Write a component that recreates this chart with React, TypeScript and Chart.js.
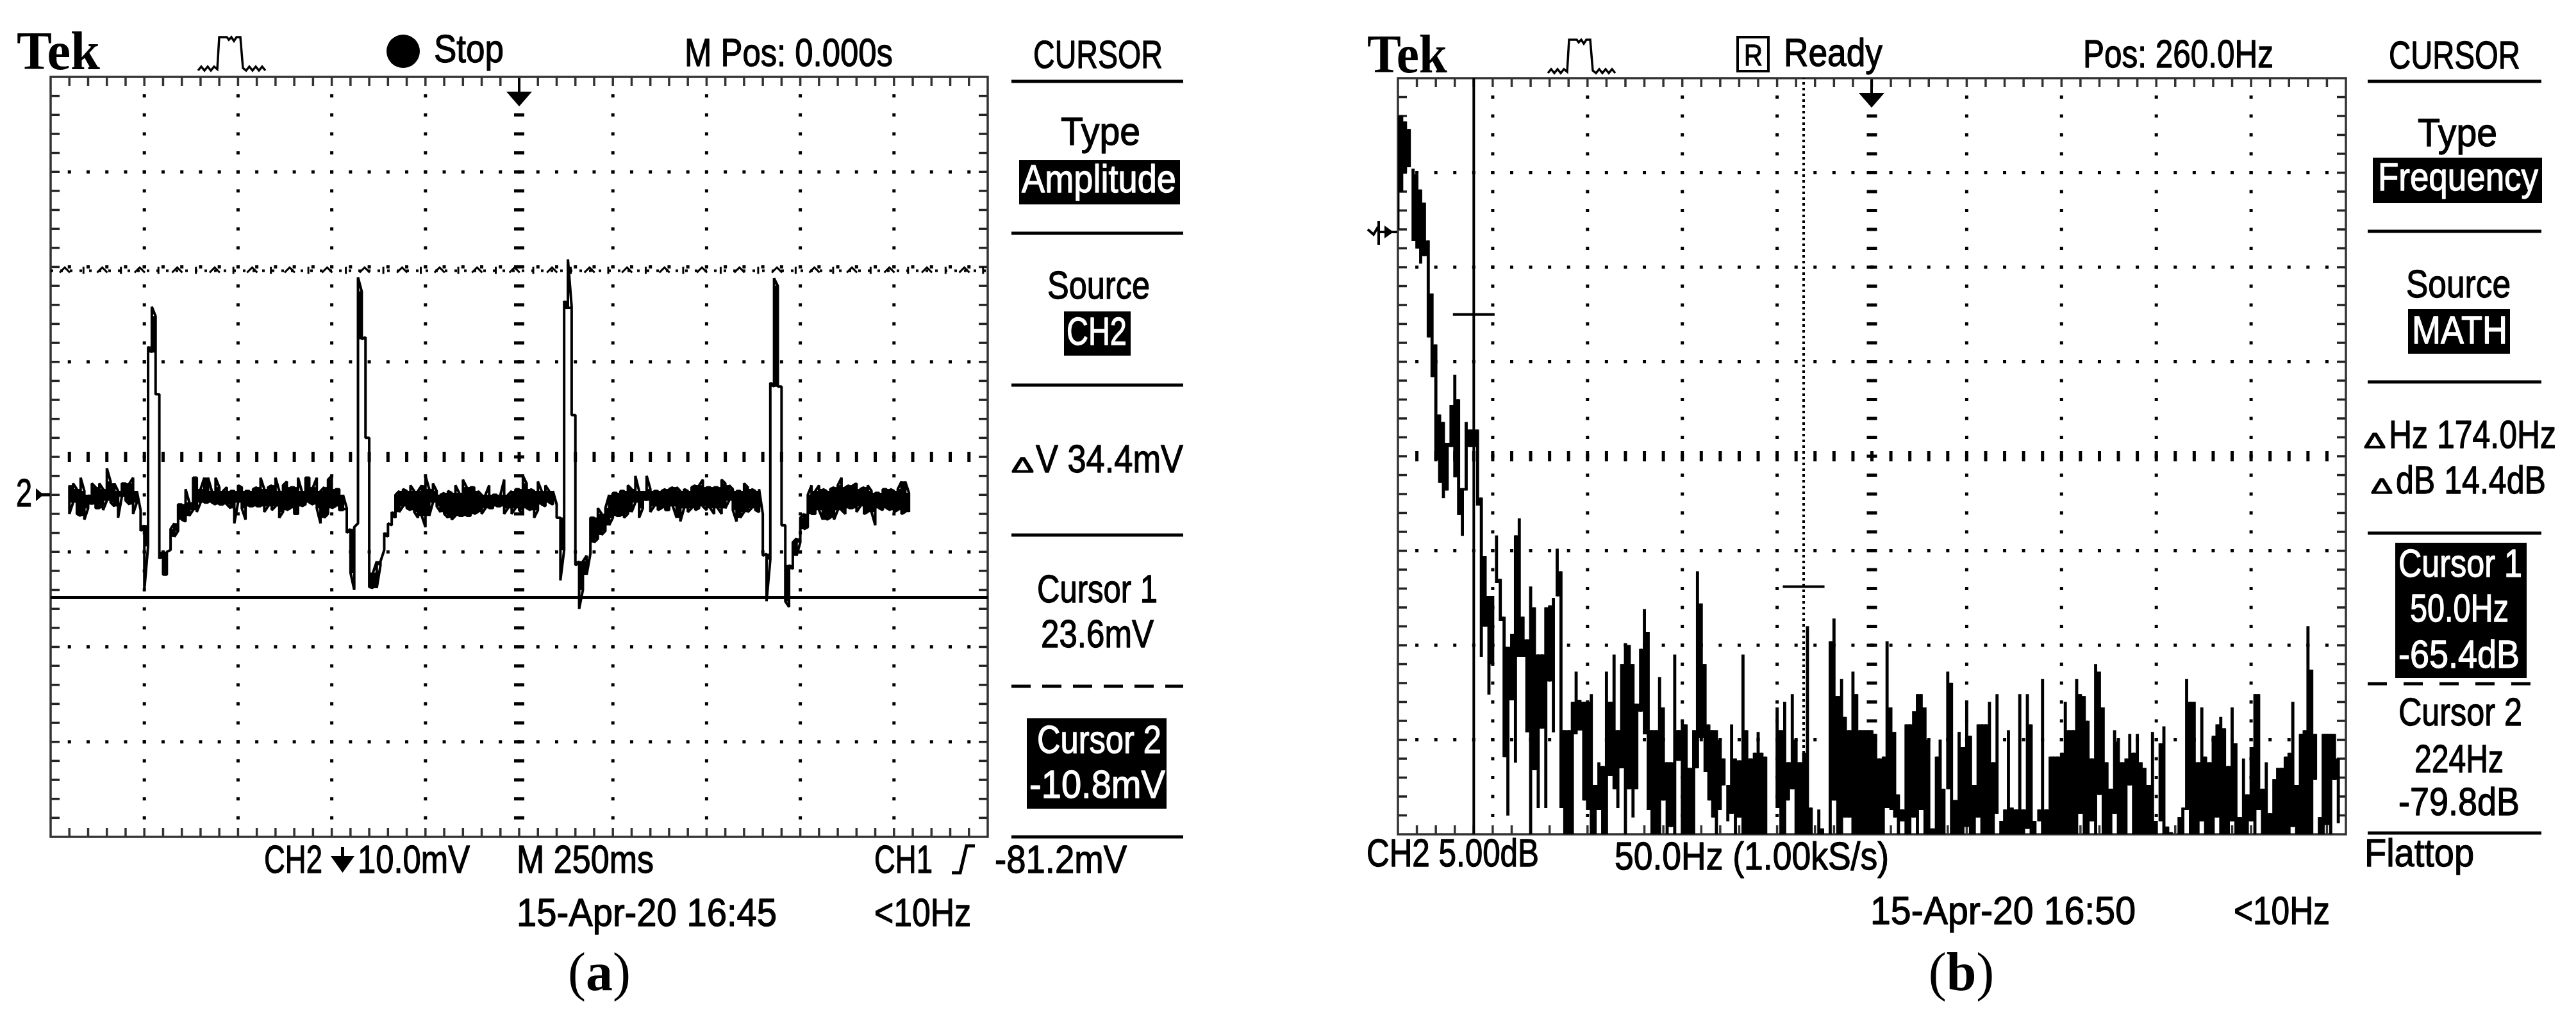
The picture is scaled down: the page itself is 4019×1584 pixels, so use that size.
import { useEffect, useRef } from "react";
import { Chart, registerables } from "chart.js";
Chart.register(...registerables);

// ---------- Panel (a): CH2 trace, one high/low pair per display column (mV) ----------
const traceAFirstColumn = 5;
const traceAHigh = [
  1,1.2,0.6,1.8,0.4,0,1.2,0.8,1.2,0.6,2.8,1.4,1.2,0.4,1.2,1.2,1.2,1.8,
  0.4,-1.6,-3.2,15.6,19.8,18.8,10.6,-6,-6,-3.6,-3,-1,-1,0.6,-0.8,1.8,
  1.8,0.6,1.8,1.8,0.4,1.8,0.8,0.4,0.8,0.4,0.4,1,0.8,0.4,0.4,0.6,0.8,1.8,0.6,0.8,1,1.8,0.4,1,1.4,0.8,0.8,1.8,0.4,1.8,1.8,0.8,1.8,0.4,0.8,1.6,2,0.6,0.6,0,
  -1.4,-3.6,-3.4,22.9,21.4,16.6,6,-8.2,-7,-7,-4,-3,-1.8,0,0.4,0.6,0.4,1,0.4,0.4,1,2,0.6,1.2,0.4,0,0.2,0.4,0.2,1,0.2,1.6,0.8,0.8,0.8,0.4,0,0,1,0,0,0,1.6,0,0.4,0.6,0.6,2,1.2,0.6,0.4,1.4,0.4,1,0.4,0.4,
  -1,-2.4,20.4,24.8,19.8,8.4,-7,-7,-6.4,-2.4,-2.4,-1.4,-2,-1.4,0,
  0.2,0.2,0.4,0.4,1,0.6,2,0.4,0.4,2,0.6,0.4,0.4,0.4,0.6,0.6,0.8,0.8,0.4,0.6,0.4,0.8,1,1,1.6,0.8,0.8,0.8,0.8,1.6,1.2,1,0.6,0.4,0.4,1.2,0.8,0.6,0.4,0.6,
  -2,-6.2,11.8,22.8,22,11.4,-3.2,-7.4,-5,-4.6,-2.4,-2,0,1,0.4,1,0.6,0.4,0.6,0.8,1,1.8,0.8,1,1,1.2,0.6,0.8,1,0.4,0.2,0.2,0.6,0.6,0.6,0.4,0.6,1.4,1.4,0.2,
];
const traceALow = [
  -2,-0.8,-2,-2.2,-2.6,-1.4,-1,-1.4,-1.4,-1.6,-0.6,-0.8,-1.2,-2.4,-0.2,-0.6,-1,-2,
  -0.8,-3.8,-10,-5.4,15,10.6,-6.7,-8.4,-8.4,-5.8,-4.4,-3.8,-2.6,-2.8,-2.2,-1.6,
  -1.8,-0.8,-0.8,-0.8,-0.8,-1,-1,-1,-1,-1.4,-3,-0.8,-1.4,-2.6,-1.2,-1.2,-1.2,-1.2,-1.8,-1.2,-1.6,-1.2,-2.4,-1.8,-1.6,-1.4,-2,-2,-1.2,-1,-0.8,-1,-1.4,-3,-2.4,-2,-1.4,-1.2,-1.6,-1.6,
  -4,-8.2,-10,-3,16.4,6,-9.7,-9.8,-9.8,-7.4,-5.8,-4.4,-3.2,-2.4,-1.8,-1.2,-1.4,-1.6,-1.8,-2.4,-2.2,-3.4,-2.2,-0.8,-1.2,-1.8,-2,-2.4,-2.6,-2.2,-2.2,-2.2,-2.2,-2.2,-2,-1.8,-2,-1.4,-1.4,-1.4,-1.2,-1.2,-2,-1.4,-2,-1.4,-1.6,-2,-1.4,-1.6,-2.4,-1.6,-1,-1.2,-0.8,-1,
  -2.4,-9,-5.8,19.6,8.4,-7.4,-12,-10,-8.4,-6.2,-5,-4.6,-4.2,-3.8,-3.2,
  -2.4,-2.2,-2.2,-2.4,-2,-1.8,-0.8,-2.4,-1.4,-0.6,-1.8,-1.2,-1.6,-1.4,-1.6,-1.6,-1.2,-2.4,-2.8,-1.4,-1.8,-1.4,-1.6,-1.4,-1.2,-1.6,-1.4,-2,-1.4,-2,-1.4,-0.6,-1.6,-2.8,-2.4,-1.8,-1.8,-1.4,-1.6,-1.8,
  -6.4,-11.2,-6.8,11.4,11.4,-3.2,-11.2,-11.8,-7.8,-6.4,-5,-3.6,-3.4,-2,-2,-1.6,-2.6,-2.6,-2.4,-2.6,-1.6,-1.6,-2,-1.4,-1.4,-1.8,-1.2,-2,-1.8,-1.8,-3.2,-1.4,-1.6,-1.4,-1.6,-1.8,-1.6,-2,-1.8,-1.8,
];
const cursor1Mv = 23.6;
const cursor2Mv = -10.8;

// ---------- Panel (b): FFT, one high/low pair per display column (dB) ----------
const spectrumHigh = [
  -54.9,-54.9,-55.2,-55.6,-57.7,-58,-58.8,-59.5,-61.5,-64.3,-67,-70.7,-71.1,-72.2,-70.2,-68.6,-69.9,-74.6,-71.1,-71.5,
  -71.5,-71.5,-75.1,-78.2,-80.3,-80.3,-77.1,-79.4,-81.4,-83,-82.3,-77.1,-76.2,-81.4,-82.6,-79.8,-80.9,-83.4,-83.4,-80.9,
  -80.8,-80.4,-77.8,-79,-87.4,-87.4,-85.9,-84.3,-85.8,-85.9,-85.9,-85.5,-90.3,-89.1,-89.3,-84.3,-85.9,-83.4,-87.4,-83.9,
  -82.8,-82.9,-83.9,-86,-83.1,-81,-82.2,-87.4,-87.4,-84.6,-86.2,-89.1,-89.1,-83.4,-87.4,-86.9,-87.1,-89.4,-87.4,-79,
  -80.7,-83.9,-87.1,-87.4,-87.4,-87.9,-88.9,-90.3,-87.1,-88.9,-89,-83.4,-87.4,-88.9,-88.6,-87.5,-88.6,-88.8,-92.9,-92.9,
  -86.2,-87.4,-85.9,-89.1,-85.5,-87.9,-89.1,-88.6,-81.9,-91.5,-92.9,-91.6,-92.6,-92.9,-82.7,-81.5,-85.6,-84.7,-86.7,-87.4,
  -84.3,-85.5,-87.4,-87.4,-87.4,-87.4,-87.6,-88.9,-88.8,-82.7,-86.2,-87.5,-90.8,-91.6,-87.1,-87.1,-86.4,-85.5,-85.5,-86.2,
  -87.9,-92.6,-88.8,-87.9,-90.5,-84.3,-84.9,-91.1,-87.5,-88.3,-85.9,-87.7,-90.3,-87.1,-87.1,-87.1,-85.9,-89.1,-85.5,-92.2,
  -91.6,-87.4,-91.5,-91.6,-85.5,-91.6,-85.5,-87.1,-92.2,-91.6,-84.7,-91.6,-88.8,-88.8,-88.8,-88.6,-85.9,-87.4,-87.4,-84.7,
  -85.5,-85.6,-86.9,-88.9,-83.9,-84.3,-86.2,-89.1,-90.5,-87.4,-88,-89.1,-88.9,-87.6,-88.6,-87.6,-89.1,-89.4,-90.3,-87.5,
  -92.2,-88.1,-87.2,-92.5,-92.8,-92.9,-92,-91.5,-84.7,-85.9,-85.9,-89.1,-86.2,-88.8,-89.1,-87.7,-87.1,-86.7,-87.3,-89.3,
  -86.2,-88.1,-92,-88.9,-90.8,-88.3,-85.5,-85.5,-90.5,-89.1,-91.8,-90,-89.4,-89.4,-88.8,-88.6,-85.9,-90.3,-87.6,-87.4,
  -81.9,-84.2,-87.6,-92,-87.6,-87.6,-87.6,-87.6,-88.9,
];
const spectrumLow = [
  -60.9,-58.9,-57.9,-57.6,-61.5,-61.9,-62.7,-62.3,-66.6,-68.7,-73.1,-74.3,-75.1,-74.7,-72.4,-74,-76,-77.1,-74.7,-72.4,
  -72.4,-75.5,-83.5,-81.9,-85.5,-83.9,-79.6,-81.6,-88.8,-91.9,-85.8,-89.1,-83.5,-83.5,-87.5,-92.9,-89.5,-91.5,-87.3,-91.5,
  -84.8,-87.5,-80.3,-91.5,-92.9,-92.9,-92.9,-87.6,-87.4,-91.1,-91.6,-92.9,-92.9,-91.6,-92.9,-92.9,-89.8,-90.5,-91.5,-89.4,
  -92.9,-90.5,-92,-90.5,-86.4,-87.6,-91.6,-92.9,-92.9,-92.9,-91.1,-92.9,-92.5,-92.9,-89,-92.9,-92.9,-92.9,-92.9,-89.4,
  -87.8,-89.6,-91.1,-92,-92.9,-91.6,-90.3,-92.2,-91.8,-92.9,-92,-92.9,-92.9,-92.9,-92.9,-92.9,-92.9,-92.9,-92.9,-92.9,
  -91.5,-92.9,-92.9,-91.1,-90.5,-92.9,-92.9,-92.9,-92.9,-92.9,-92.9,-92.9,-92.9,-92.9,-92.9,-91.1,-92.9,-92.9,-92,-92,
  -92.9,-92.9,-92.9,-92.9,-92.9,-92.9,-92.9,-92.9,-92.9,-91.5,-91.6,-92,-92.9,-92.2,-92.9,-92.9,-92,-92.9,-91.6,-92.9,
  -92.9,-92.9,-92.9,-92.9,-92.9,-90.5,-92.9,-92.9,-92.9,-92.9,-92.5,-92.9,-92.9,-92,-92.9,-92.9,-92.9,-92.9,-91.8,-92.9,
  -92.9,-92.9,-92.9,-92.9,-92.9,-92.9,-92.6,-92.9,-92.9,-92.2,-92.9,-92.9,-92.9,-92.9,-92.9,-92.9,-92.9,-92.9,-92.9,-92.9,
  -91.8,-92.9,-92.9,-92.2,-92.9,-90.8,-92.9,-92.9,-92.9,-91.8,-92.9,-92.9,-92.9,-90.3,-92.9,-92.9,-92.9,-92.9,-92.9,-92.9,
  -92.9,-92.2,-92.9,-92.9,-92.9,-92.9,-92.9,-92.9,-91.6,-92.9,-92.9,-92.9,-92.2,-92.9,-92.9,-92.9,-92,-92.9,-92.9,-92.9,
  -92.2,-92.9,-92.9,-92.9,-92.9,-92.2,-92.9,-91.6,-92.9,-92.9,-92.9,-92.9,-92.9,-92.9,-92.9,-92.9,-92.5,-92.9,-92.9,-92.9,
  -92.9,-92.9,-90,-92.9,-92.9,-92.4,-92.9,-90,-92.3,
];
const cursor1Hz = 50;
const cursor1Db = -65.4;
const cursor2Hz = 224;
const cursor2Db = -79.8;
const crossHalfWidthHz = 11;

// ---------- Axis ranges ----------
const timeRangeMs = [-1250, 1250];
const voltRangeMv = [-36, 44];
const freqRangeHz = [10, 510];
const levelRangeDb = [-92.9, -52.9];

// ---------- Texts: [text, left, right, baseline, font size] ----------
type T = [string, number, number, number, number?];
const textsA: T[] = [
  ["Stop", 677, 786, 97],
  ["M Pos: 0.000s", 1068, 1393, 103],
  ["CURSOR", 1612, 1814, 106],
  ["Type", 1655, 1779, 226],
  ["Source", 1634, 1794, 466],
  ["Δ", 1578, 1613, 737, 34],
  ["V 34.4mV", 1616, 1846, 737],
  ["Cursor 1", 1618, 1806, 940],
  ["23.6mV", 1624, 1800, 1010],
  ["CH2", 412, 503, 1362],
  ["10.0mV", 558, 733, 1362],
  ["M 250ms", 806, 1020, 1362],
  ["CH1", 1364, 1455, 1362],
  ["-81.2mV", 1552, 1758, 1362],
  ["15-Apr-20 16:45", 806, 1212, 1445],
  ["<10Hz", 1364, 1515, 1445],
  ["2", 25, 50, 790],
];
const inverseA: T[] = [
  ["Amplitude", 1594, 1835, 300],
  ["CH2", 1664, 1758, 538],
  ["Cursor 2", 1618, 1812, 1175],
  ["-10.8mV", 1606, 1818, 1245],
];
const textsB: T[] = [
  ["Ready", 2783, 2937, 103],
  ["Pos: 260.0Hz", 3250, 3547, 105],
  ["CURSOR", 3727, 3932, 107],
  ["Type", 3772, 3896, 228],
  ["Source", 3754, 3917, 464],
  ["Δ", 3688, 3722, 699, 34],
  ["Hz 174.0Hz", 3727, 3988, 699],
  ["Δ", 3699, 3733, 770, 34],
  ["dB 14.4dB", 3738, 3972, 770],
  ["Cursor 2", 3742, 3935, 1132],
  ["224Hz", 3767, 3906, 1205],
  ["-79.8dB", 3742, 3931, 1272],
  ["Flattop", 3689, 3860, 1352],
  ["CH2 5.00dB", 2132, 2401, 1352],
  ["50.0Hz (1.00kS/s)", 2519, 2947, 1357],
  ["15-Apr-20 16:50", 2918, 3332, 1442],
  ["<10Hz", 3485, 3635, 1442],
];
const inverseB: T[] = [
  ["Frequency", 3710, 3960, 297],
  ["MATH", 3763, 3912, 536],
  ["Cursor 1", 3742, 3935, 900],
  ["50.0Hz", 3760, 3914, 970],
  ["-65.4dB", 3742, 3931, 1042],
];

const SANS = '"Liberation Sans", "DejaVu Sans", sans-serif';
const SERIF = '"Liberation Serif", "DejaVu Serif", serif';

function fit(ctx: CanvasRenderingContext2D, t: T, color = "#000", font?: string) {
  const [s, x0, x1, base, size] = t;
  ctx.save();
  ctx.font = font ?? `${size ?? 62}px ${SANS}`;
  ctx.fillStyle = color;
  ctx.strokeStyle = color;
  ctx.lineWidth = font ? 0 : 1.3;
  ctx.lineJoin = "round";
  ctx.textAlign = "left";
  ctx.textBaseline = "alphabetic";
  const w = ctx.measureText(s).width;
  ctx.translate(x0, base);
  ctx.scale((x1 - x0) / w, 1);
  ctx.fillText(s, 0, 0);
  if (!font) ctx.strokeText(s, 0, 0);
  ctx.restore();
}

function hline(ctx: CanvasRenderingContext2D, x0: number, x1: number, y: number, lw = 4, dash: number[] = []) {
  ctx.save();
  ctx.strokeStyle = "#000";
  ctx.lineWidth = lw;
  ctx.setLineDash(dash);
  ctx.beginPath();
  ctx.moveTo(x0, y);
  ctx.lineTo(x1, y);
  ctx.stroke();
  ctx.restore();
}

function pulseIcon(ctx: CanvasRenderingContext2D, x: number, top: number) {
  const s: [number, number][] = [
    [0,54],[5,48],[10,54],[15,48],[20,54],[25,48],[30,52],[33,2],[45,2],[48,6],[52,2],[56,8],[60,2],[66,2],[70,50],[75,54],[80,48],[85,54],[90,48],[95,54],[100,48],[105,54],
  ];
  ctx.save();
  ctx.strokeStyle = "#000";
  ctx.lineWidth = 3.5;
  ctx.beginPath();
  s.forEach(([a, b], i) => (i ? ctx.lineTo(x + a, top + b) : ctx.moveTo(x + a, top + b)));
  ctx.stroke();
  ctx.restore();
}

function triggerArrow(ctx: CanvasRenderingContext2D, x: number, top: number) {
  ctx.save();
  ctx.fillStyle = "#000";
  ctx.fillRect(x - 2, top, 4, 22);
  ctx.beginPath();
  ctx.moveTo(x - 20, top + 21);
  ctx.lineTo(x + 20, top + 21);
  ctx.lineTo(x, top + 44);
  ctx.closePath();
  ctx.fill();
  ctx.restore();
}

function caption(ctx: CanvasRenderingContext2D, cx: number, letter: string) {
  ctx.save();
  ctx.fillStyle = "#000";
  ctx.textBaseline = "alphabetic";
  ctx.textAlign = "left";
  const reg = `84px ${SERIF}`;
  const bold = `bold 84px ${SERIF}`;
  ctx.font = reg;
  const p1 = ctx.measureText("(").width;
  const p2 = ctx.measureText(")").width;
  ctx.font = bold;
  const l = ctx.measureText(letter).width;
  let x = cx - (p1 + l + p2) / 2;
  ctx.font = reg;
  ctx.fillText("(", x, 1545);
  x += p1;
  ctx.font = bold;
  ctx.fillText(letter, x, 1545);
  x += l;
  ctx.font = reg;
  ctx.fillText(")", x, 1545);
  ctx.restore();
}

// Graticule: positions come from the chart's own scales.
const graticule = {
  id: "graticule",
  beforeDatasetsDraw(chart: any) {
    const { ctx, chartArea: a, scales } = chart;
    const xs = scales.x;
    const ys = scales.y;
    const xAt = (d: number) => xs.getPixelForValue(xs.min + ((xs.max - xs.min) * d) / 10);
    const yAt = (d: number) => ys.getPixelForValue(ys.max - ((ys.max - ys.min) * d) / 8);
    ctx.save();
    for (let k = 1; k < 50; k++) {
      const x = xAt(k / 5);
      ctx.fillStyle = "#333";
      ctx.fillRect(x - 1.75, a.top, 3.5, 14);
      ctx.fillRect(x - 1.75, a.bottom - 14, 3.5, 14);
    }
    for (let k = 1; k < 40; k++) {
      const y = yAt(k / 5);
      ctx.fillStyle = "#222";
      ctx.fillRect(a.left, y - 1.75, 14, 3.5);
      ctx.fillRect(a.right - 14, y - 1.75, 14, 3.5);
    }
    ctx.fillStyle = "#000";
    for (let d = 1; d < 10; d++) {
      const x = xAt(d);
      for (let k = 1; k < 40; k++) {
        const y = yAt(k / 5);
        if (d === 5) ctx.fillRect(x - 8, y - 2.5, 16, 5);
        else ctx.fillRect(x - 2.5, y - 2.5, 5, 5);
      }
    }
    for (let r = 1; r < 8; r++) {
      const y = yAt(r);
      for (let k = 1; k < 50; k++) {
        const x = xAt(k / 5);
        if (r === 4) ctx.fillRect(x - 2.5, y - 8, 5, 16);
        else ctx.fillRect(x - 2.5, y - 2.5, 5, 5);
      }
    }
    ctx.strokeStyle = "#333";
    ctx.lineWidth = 3.5;
    ctx.strokeRect(a.left, a.top, a.right - a.left, a.bottom - a.top);
    ctx.restore();
  },
};

const panelAArt = {
  id: "panelAArt",
  afterDraw(chart: any) {
    const { ctx, scales } = chart;
    const y1 = scales.y.getPixelForValue(cursor1Mv);
    const a = chart.chartArea;
    ctx.save();
    ctx.strokeStyle = "#000";
    ctx.lineWidth = 3;
    for (let x = a.left + 22, i = 0; x < a.right; x += 29.24, i++) {
      ctx.beginPath();
      if (i % 2 === 0) {
        ctx.moveTo(x - 8, y1 + 3);
        ctx.lineTo(x, y1 - 5);
        ctx.lineTo(x + 8, y1 + 3);
      } else {
        ctx.moveTo(x, y1 - 6);
        ctx.lineTo(x, y1 + 5);
      }
      ctx.stroke();
    }
    ctx.restore();
    fit(ctx, ["Tek", 26, 156, 108], "#000", `bold 84px ${SERIF}`);
    pulseIcon(ctx, 309, 56);
    ctx.fillStyle = "#000";
    ctx.beginPath();
    ctx.arc(629, 80, 26, 0, Math.PI * 2);
    ctx.fill();
    triggerArrow(ctx, 810, 122);
    [127, 364, 601, 835, 1306].forEach((y) => hline(ctx, 1578, 1846, y, 5));
    hline(ctx, 1578, 1846, 1071, 5, [30, 18]);
    ctx.fillStyle = "#000";
    ctx.fillRect(1590, 250, 251, 69);
    ctx.fillRect(1660, 486, 104, 69);
    ctx.fillRect(1602, 1121, 218, 141);
    textsA.forEach((t) => fit(ctx, t));
    inverseA.forEach((t) => fit(ctx, t, "#fff"));
    ctx.fillStyle = "#000";
    ctx.fillRect(532, 1322, 5, 18);
    ctx.beginPath();
    ctx.moveTo(516, 1336);
    ctx.lineTo(553, 1336);
    ctx.lineTo(534.5, 1362);
    ctx.closePath();
    ctx.fill();
    ctx.lineWidth = 5;
    ctx.strokeStyle = "#000";
    ctx.beginPath();
    ctx.moveTo(1485, 1362);
    ctx.lineTo(1498, 1362);
    ctx.lineTo(1508, 1320);
    ctx.lineTo(1521, 1320);
    ctx.stroke();
    ctx.beginPath();
    ctx.moveTo(58, 772);
    ctx.lineTo(78, 772);
    ctx.stroke();
    ctx.beginPath();
    ctx.moveTo(56, 762);
    ctx.lineTo(68, 772);
    ctx.lineTo(56, 782);
    ctx.closePath();
    ctx.fill();
    caption(ctx, 935, "a");
  },
};

const panelBArt = {
  id: "panelBArt",
  afterDraw(chart: any) {
    const { ctx } = chart;
    fit(ctx, ["Tek", 2133, 2258, 113], "#000", `bold 84px ${SERIF}`);
    pulseIcon(ctx, 2415, 60);
    ctx.strokeStyle = "#000";
    ctx.lineWidth = 4;
    ctx.strokeRect(2711, 58, 48, 53);
    fit(ctx, ["R", 2721, 2750, 102, 46]);
    triggerArrow(ctx, 2920, 124);
    [127, 361, 596, 832, 1300].forEach((y) => hline(ctx, 3694, 3965, y, 5));
    hline(ctx, 3694, 3965, 1067, 5, [30, 26]);
    ctx.fillStyle = "#000";
    ctx.fillRect(3702, 246, 264, 71);
    ctx.fillRect(3757, 482, 159, 70);
    ctx.fillRect(3737, 847, 205, 211);
    textsB.forEach((t) => fit(ctx, t));
    inverseB.forEach((t) => fit(ctx, t, "#fff"));
    ctx.lineWidth = 4;
    ctx.beginPath();
    ctx.moveTo(2134, 358);
    ctx.lineTo(2143, 366);
    ctx.lineTo(2150, 354);
    ctx.moveTo(2151, 345);
    ctx.lineTo(2151, 382);
    ctx.moveTo(2150, 362);
    ctx.lineTo(2180, 362);
    ctx.stroke();
    ctx.beginPath();
    ctx.moveTo(2160, 352);
    ctx.lineTo(2174, 362);
    ctx.lineTo(2160, 372);
    ctx.closePath();
    ctx.fill();
    caption(ctx, 3060, "b");
  },
};

const COL_MS = 10;
const COL_HZ = 2;

function traceAPoints() {
  const pts: { x: number; y: number }[] = [];
  let last = 0;
  traceAHigh.forEach((hi, i) => {
    const lo = traceALow[i];
    const x = timeRangeMs[0] + (traceAFirstColumn + i) * COL_MS;
    const [a, b] = Math.abs(hi - last) < Math.abs(lo - last) ? [hi, lo] : [lo, hi];
    pts.push({ x, y: a }, { x, y: b });
    last = b;
  });
  return pts;
}

// The display lights whole pixels: neighbouring columns whose ranges overlap merge into solid black.
function mergedBands(hi: number[], lo: number[], x0: number, dx: number) {
  const out: { x: number; y: [number, number] }[] = [];
  for (let i = 0; i + 1 < hi.length; i++) {
    const top = Math.min(hi[i], hi[i + 1]);
    const bottom = Math.max(lo[i], lo[i + 1]);
    if (top > bottom) out.push({ x: x0 + (i + 0.5) * dx, y: [bottom, top] });
  }
  return out;
}

const lineBase = { type: "line" as const, pointRadius: 0, borderColor: "#000", fill: false, tension: 0 };

export default function App() {
  const refA = useRef<HTMLCanvasElement>(null);
  const refB = useRef<HTMLCanvasElement>(null);
  useEffect(() => {
    const common = {
      animation: false as const,
      responsive: false,
      devicePixelRatio: 1,
      plugins: { legend: { display: false }, tooltip: { enabled: false }, title: { display: false } },
    };
    const chartA = new Chart(refA.current!, {
      type: "bar",
      data: {
        datasets: [
          {
            type: "bar",
            label: "CH2 band",
            data: mergedBands(traceAHigh, traceALow, timeRangeMs[0] + traceAFirstColumn * COL_MS, COL_MS),
            backgroundColor: "#000",
            barThickness: 6,
            grouped: false,
          },
          { ...lineBase, label: "CH2", data: traceAPoints(), borderWidth: 4, borderJoinStyle: "bevel" },
          {
            ...lineBase,
            label: "Cursor 1",
            data: [{ x: timeRangeMs[0], y: cursor1Mv }, { x: timeRangeMs[1], y: cursor1Mv }],
            borderWidth: 4,
            borderDash: [4, 11],
          },
          {
            ...lineBase,
            label: "Cursor 2",
            data: [{ x: timeRangeMs[0], y: cursor2Mv }, { x: timeRangeMs[1], y: cursor2Mv }],
            borderWidth: 5,
          },
        ],
      },
      options: {
        ...common,
        layout: { padding: { left: 79, right: 4019 - 1541, top: 120, bottom: 1584 - 1306 } },
        scales: {
          x: { type: "linear", display: false, offset: false, min: timeRangeMs[0], max: timeRangeMs[1] },
          y: { type: "linear", display: false, min: voltRangeMv[0], max: voltRangeMv[1] },
        },
      },
      plugins: [graticule, panelAArt],
    } as any);
    const chartB = new Chart(refB.current!, {
      type: "bar",
      data: {
        datasets: [
          {
            type: "bar",
            label: "MATH FFT",
            data: spectrumHigh
              .map((hi, i) => ({ x: freqRangeHz[0] + i * COL_HZ, y: [spectrumLow[i], hi] }))
              .filter((d) => d.y[1] > d.y[0]),
            backgroundColor: "#000",
            barThickness: 4.2,
            grouped: false,
          },
          {
            type: "bar",
            label: "MATH FFT band",
            data: mergedBands(spectrumHigh, spectrumLow, freqRangeHz[0], COL_HZ),
            backgroundColor: "#000",
            barThickness: 6,
            grouped: false,
          },
          {
            ...lineBase,
            label: "Cursor 1",
            data: [{ x: cursor1Hz, y: levelRangeDb[0] }, { x: cursor1Hz, y: levelRangeDb[1] }],
            borderWidth: 4,
          },
          {
            ...lineBase,
            label: "Cursor 2",
            data: [{ x: cursor2Hz, y: levelRangeDb[0] }, { x: cursor2Hz, y: levelRangeDb[1] }],
            borderWidth: 4,
            borderDash: [4, 5],
          },
          {
            ...lineBase,
            label: "Cursor 1 level",
            data: [{ x: cursor1Hz - crossHalfWidthHz, y: cursor1Db }, { x: cursor1Hz + crossHalfWidthHz, y: cursor1Db }],
            borderWidth: 4,
          },
          {
            ...lineBase,
            label: "Cursor 2 level",
            data: [{ x: cursor2Hz - crossHalfWidthHz, y: cursor2Db }, { x: cursor2Hz + crossHalfWidthHz, y: cursor2Db }],
            borderWidth: 4,
          },
        ],
      },
      options: {
        ...common,
        layout: { padding: { left: 2181, right: 4019 - 3660, top: 122, bottom: 1584 - 1302 } },
        scales: {
          x: { type: "linear", display: false, offset: false, min: freqRangeHz[0], max: freqRangeHz[1] },
          y: { type: "linear", display: false, min: levelRangeDb[0], max: levelRangeDb[1] },
        },
      },
      plugins: [graticule, panelBArt],
    } as any);
    return () => {
      chartA.destroy();
      chartB.destroy();
    };
  }, []);
  const style = { position: "fixed", left: 0, top: 0, width: 4019, height: 1584 } as const;
  return (
    <div style={{ position: "fixed", left: 0, top: 0, width: 4019, height: 1584, background: "#fff", overflow: "hidden" }}>
      <canvas ref={refA} width={4019} height={1584} style={style} />
      <canvas ref={refB} width={4019} height={1584} style={style} />
    </div>
  );
}
